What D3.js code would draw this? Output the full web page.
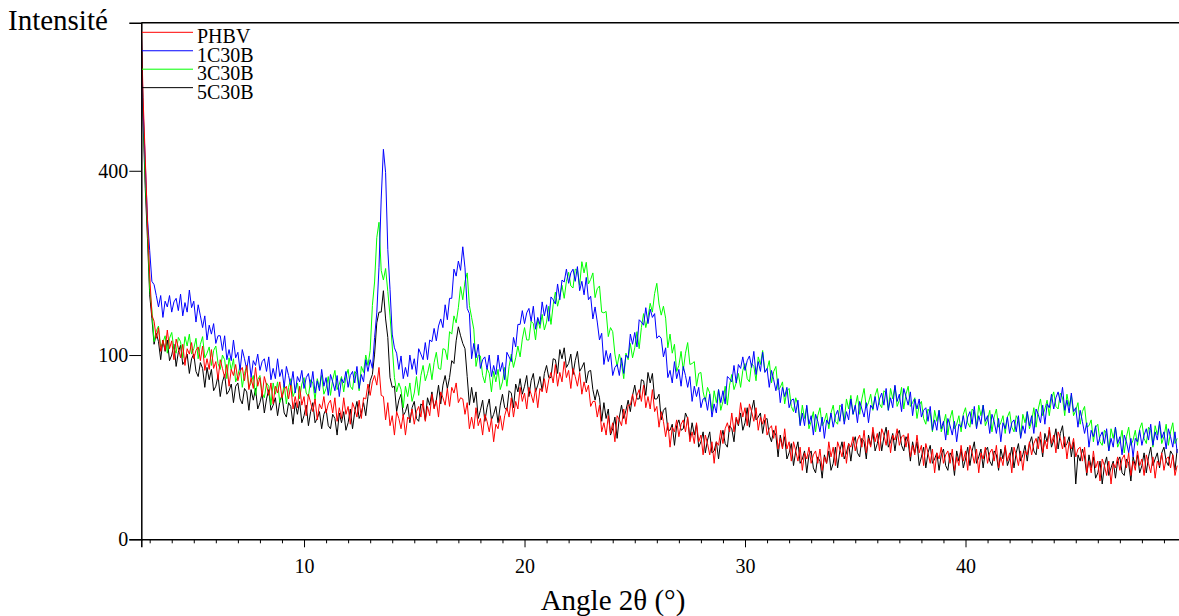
<!DOCTYPE html>
<html>
<head>
<meta charset="utf-8">
<script src="https://cdn.jsdelivr.net/npm/d3@7"></script>
<style>
  body { margin: 0; background: #fff; }
  svg { display: block; font-family: "Liberation Serif", "Times New Roman", serif; }
</style>
</head>
<body>
<div id="chart"></div>
<script>
var width = 1179, height = 616;

// 2θ scan: a few dense points on the steep start, then a 0.1° step
var scanStart = [2.62, 2.7, 2.8, 2.9, 3.0, 3.1];
var angles = scanStart.concat(d3.range(3.2, 49.65, 0.1).map(function(a){ return +a.toFixed(1); }));

// intensities (first line: start + 3.2-3.9, then one line per degree)
var phbv = [785, 575, 428, 296, 207, 148, 140, 119, 132, 104, 117, 105, 129, 107,
  116, 95, 118, 108, 97, 112, 89, 107, 101, 114,
  96, 105, 109, 94, 110, 84, 96, 85, 106, 86,
  93, 75, 95, 86, 77, 90, 69, 85, 79, 90,
  74, 83, 87, 74, 89, 66, 77, 67, 87, 69,
  77, 60, 78, 70, 61, 72, 54, 69, 63, 73,
  59, 66, 69, 58, 70, 50, 60, 51, 69, 53,
  60, 45, 62, 55, 48, 58, 42, 54, 50, 60,
  47, 54, 57, 47, 59, 41, 51, 43, 59, 46,
  52, 39, 55, 50, 44, 57, 43, 59, 58, 71,
  61, 73, 79, 70, 87, 61, 60, 42, 55, 38,
  45, 32, 48, 43, 36, 46, 32, 44, 42, 50,
  39, 48, 52, 44, 57, 41, 52, 45, 62, 50,
  57, 44, 64, 59, 53, 67, 52, 68, 63, 72,
  55, 59, 58, 46, 55, 36, 44, 36, 51, 38,
  43, 32, 46, 41, 34, 43, 28, 39, 36, 45,
  35, 45, 51, 44, 59, 44, 56, 50, 68, 56,
  63, 50, 68, 62, 55, 67, 51, 67, 64, 76,
  63, 75, 82, 72, 90, 69, 82, 73, 93, 77,
  84, 67, 86, 78, 69, 82, 62, 73, 64, 70,
  52, 56, 56, 44, 53, 34, 40, 32, 45, 33,
  40, 28, 45, 42, 38, 50, 39, 53, 53, 62,
  52, 61, 66, 56, 70, 51, 60, 50, 66, 48,
  52, 37, 48, 41, 31, 40, 25, 37, 34, 42,
  31, 39, 42, 34, 44, 28, 34, 27, 40, 28,
  32, 21, 32, 27, 21, 28, 17, 28, 26, 35,
  27, 36, 40, 34, 47, 34, 44, 39, 55, 44,
  51, 38, 54, 48, 41, 51, 35, 44, 39, 46,
  32, 36, 38, 30, 38, 24, 30, 24, 36, 24,
  28, 18, 28, 23, 18, 25, 14, 22, 19, 25,
  17, 21, 23, 17, 24, 14, 20, 17, 28, 20,
  25, 16, 28, 24, 20, 28, 17, 27, 25, 31,
  23, 29, 32, 25, 35, 22, 30, 25, 37, 28,
  33, 23, 36, 32, 26, 35, 22, 32, 29, 36,
  26, 31, 32, 25, 33, 20, 26, 21, 32, 22,
  26, 16, 27, 22, 17, 24, 13, 22, 19, 25,
  17, 21, 23, 17, 24, 14, 20, 16, 26, 18,
  23, 14, 26, 22, 17, 24, 13, 22, 19, 25,
  17, 22, 24, 18, 26, 15, 20, 16, 26, 18,
  22, 13, 25, 21, 16, 23, 14, 23, 21, 28,
  21, 27, 30, 24, 34, 22, 29, 24, 37, 27,
  32, 22, 34, 30, 24, 31, 19, 28, 24, 30,
  20, 24, 25, 18, 25, 13, 18, 13, 23, 15,
  18, 10, 19, 16, 12, 18, 9, 17, 15, 20,
  14, 19, 21, 15, 22, 12, 18, 14, 23, 16,
  19, 12, 21, 17, 13, 20, 11, 18, 16, 22,
  14, 19, 20, 15, 21, 12, 16];

var c1 = [765, 548, 418, 302, 246, 196, 191, 175, 159, 175, 145, 167, 159, 175,
  152, 166, 171, 154, 177, 147, 165, 152, 183, 158,
  167, 139, 162, 147, 132, 147, 117, 135, 124, 137,
  113, 122, 122, 105, 122, 95, 106, 94, 117, 97,
  103, 84, 106, 96, 85, 99, 77, 94, 89, 101,
  84, 93, 96, 83, 98, 75, 86, 76, 96, 78,
  85, 68, 88, 79, 69, 83, 63, 78, 73, 84,
  67, 77, 81, 68, 83, 63, 74, 65, 85, 69,
  77, 61, 80, 73, 65, 79, 60, 76, 72, 83,
  68, 79, 83, 72, 88, 67, 80, 73, 95, 83,
  95, 86, 120, 151, 218, 341, 448, 396, 247, 184,
  124, 108, 102, 85, 99, 76, 87, 78, 100, 85,
  96, 80, 107, 101, 95, 114, 95, 117, 115, 131,
  116, 134, 143, 132, 162, 142, 171, 171, 215, 204,
  228, 213, 252, 217, 157, 150, 96, 113, 97, 112,
  86, 95, 98, 85, 100, 78, 89, 80, 100, 83,
  92, 75, 103, 98, 93, 120, 109, 136, 136, 154,
  137, 151, 157, 140, 160, 130, 145, 136, 166, 147,
  162, 140, 173, 169, 163, 192, 169, 198, 195, 215,
  193, 209, 215, 196, 219, 182, 196, 176, 202, 169,
  174, 143, 159, 139, 117, 125, 90, 105, 93, 102,
  79, 87, 90, 79, 97, 81, 100, 97, 124, 112,
  126, 109, 142, 139, 135, 158, 137, 156, 145, 150,
  119, 122, 119, 98, 108, 77, 84, 72, 93, 76,
  85, 69, 88, 79, 68, 78, 56, 69, 60, 68,
  51, 58, 59, 49, 62, 44, 54, 47, 66, 55,
  65, 54, 78, 76, 73, 89, 72, 90, 86, 98,
  84, 94, 99, 87, 104, 80, 93, 83, 103, 82,
  86, 68, 84, 75, 65, 76, 55, 68, 60, 68,
  51, 57, 58, 47, 57, 38, 47, 38, 53, 39,
  45, 32, 46, 41, 34, 44, 30, 42, 39, 47,
  37, 45, 49, 41, 54, 39, 48, 42, 58, 46,
  53, 40, 56, 50, 44, 55, 40, 53, 50, 60,
  49, 58, 63, 53, 67, 49, 59, 51, 70, 56,
  62, 48, 67, 60, 53, 64, 45, 58, 50, 58,
  44, 49, 51, 41, 52, 35, 42, 35, 49, 36,
  41, 29, 43, 38, 32, 41, 28, 39, 37, 45,
  36, 44, 48, 39, 52, 36, 45, 39, 53, 41,
  45, 33, 46, 41, 33, 43, 28, 40, 36, 44,
  33, 40, 42, 34, 45, 30, 38, 33, 48, 38,
  45, 33, 50, 46, 40, 53, 39, 54, 51, 62,
  50, 59, 64, 55, 68, 49, 57, 47, 63, 48,
  51, 37, 49, 41, 33, 40, 25, 35, 31, 38,
  26, 31, 34, 27, 36, 23, 30, 25, 37, 27,
  31, 21, 32, 28, 22, 30, 20, 30, 28, 35,
  26, 32, 36, 29, 39, 26, 34, 29, 41, 30,
  34, 24, 36, 31, 25, 34, 22];

var c3 = [735, 552, 380, 288, 184, 156, 115, 128, 134, 109, 114, 122, 102, 119,
  126, 107, 102, 120, 115, 97, 121, 110, 124, 101,
  107, 119, 96, 112, 121, 97, 102, 109, 89, 105,
  110, 91, 85, 100, 95, 76, 97, 84, 96, 73,
  79, 89, 68, 81, 89, 68, 72, 79, 61, 75,
  79, 63, 59, 72, 69, 53, 72, 62, 73, 55,
  60, 71, 54, 68, 76, 60, 65, 72, 58, 71,
  77, 63, 60, 75, 72, 57, 76, 68, 79, 62,
  67, 78, 61, 75, 84, 66, 71, 78, 64, 78,
  85, 69, 66, 83, 80, 65, 88, 82, 100, 89,
  105, 161, 195, 268, 296, 213, 198, 216, 181, 147,
  110, 77, 64, 72, 66, 51, 69, 60, 72, 56,
  63, 78, 61, 79, 89, 74, 81, 91, 75, 92,
  103, 86, 85, 107, 106, 95, 127, 124, 147, 138,
  158, 188, 169, 196, 209, 161, 145, 130, 88, 100,
  99, 79, 72, 86, 81, 64, 83, 73, 85, 66,
  73, 87, 69, 88, 101, 87, 97, 110, 98, 118,
  132, 117, 117, 140, 137, 117, 143, 131, 149, 129,
  139, 160, 136, 162, 180, 160, 174, 190, 171, 196,
  210, 189, 186, 215, 213, 190, 227, 209, 226, 192,
  199, 209, 172, 185, 189, 152, 151, 153, 121, 132,
  127, 101, 88, 101, 91, 76, 102, 95, 113, 97,
  108, 127, 107, 132, 150, 132, 145, 164, 152, 178,
  193, 163, 148, 160, 144, 108, 124, 102, 112, 83,
  89, 104, 84, 102, 114, 90, 91, 93, 69, 81,
  82, 64, 56, 68, 63, 48, 65, 55, 66, 49,
  56, 69, 53, 70, 80, 66, 72, 81, 68, 84,
  91, 76, 73, 91, 88, 74, 98, 90, 105, 83,
  85, 94, 72, 83, 88, 66, 68, 73, 54, 65,
  67, 52, 48, 59, 53, 39, 53, 43, 52, 36,
  41, 48, 34, 45, 51, 38, 41, 47, 36, 47,
  53, 41, 39, 53, 51, 41, 58, 50, 61, 46,
  52, 61, 46, 58, 67, 51, 55, 62, 49, 61,
  67, 54, 51, 65, 63, 49, 67, 58, 69, 52,
  57, 68, 50, 62, 69, 52, 55, 59, 43, 53,
  56, 43, 39, 50, 47, 34, 49, 41, 49, 34,
  39, 46, 32, 43, 49, 36, 39, 45, 34, 46,
  51, 40, 37, 50, 48, 37, 53, 45, 53, 38,
  42, 49, 34, 44, 50, 37, 40, 45, 33, 44,
  48, 37, 34, 45, 42, 31, 46, 40, 48, 36,
  41, 51, 37, 50, 58, 45, 50, 57, 45, 58,
  64, 52, 50, 63, 59, 45, 62, 52, 61, 45,
  49, 55, 39, 48, 52, 37, 38, 42, 28, 37,
  39, 28, 26, 35, 33, 23, 36, 30, 37, 25,
  28, 35, 22, 31, 37, 26, 29, 35, 26, 36,
  40, 30, 27, 37, 35, 25, 38, 32, 39, 27,
  31, 39, 26, 34, 40, 27, 30];

var c5 = [690, 515, 362, 266, 176, 144, 112, 125, 115, 95, 117, 104, 117, 94,
  100, 112, 88, 103, 111, 90, 94, 101, 81, 96,
  101, 83, 78, 92, 86, 68, 87, 75, 85, 65,
  69, 79, 60, 73, 80, 62, 65, 71, 55, 69,
  72, 58, 54, 67, 64, 49, 66, 57, 67, 50,
  55, 63, 47, 58, 66, 49, 53, 59, 45, 56,
  61, 47, 44, 55, 52, 39, 55, 46, 56, 40,
  45, 53, 38, 48, 55, 40, 43, 48, 36, 46,
  50, 38, 36, 46, 43, 32, 47, 40, 48, 35,
  40, 50, 36, 48, 56, 43, 47, 55, 45, 60,
  74, 80, 101, 138, 152, 152, 182, 143, 120, 77,
  68, 69, 48, 57, 62, 45, 48, 54, 40, 51,
  56, 43, 41, 54, 52, 42, 59, 53, 64, 51,
  57, 70, 54, 70, 79, 67, 77, 94, 91, 116,
  133, 122, 113, 107, 78, 53, 68, 55, 64, 43,
  49, 57, 41, 51, 58, 42, 46, 52, 40, 53,
  62, 51, 49, 65, 63, 51, 71, 64, 76, 62,
  69, 79, 60, 74, 81, 64, 70, 78, 65, 81,
  89, 77, 77, 96, 95, 81, 106, 96, 108, 87,
  91, 101, 80, 94, 104, 83, 87, 92, 72, 83,
  84, 66, 57, 66, 59, 41, 55, 43, 50, 32,
  36, 44, 30, 44, 53, 43, 49, 57, 48, 61,
  70, 58, 58, 75, 74, 61, 82, 72, 81, 58,
  58, 62, 42, 49, 51, 35, 35, 39, 26, 38,
  42, 35, 36, 47, 43, 30, 40, 32, 39, 25,
  28, 34, 22, 29, 34, 22, 23, 28, 19, 29,
  35, 27, 25, 38, 36, 28, 43, 38, 47, 35,
  40, 51, 37, 49, 57, 42, 44, 47, 33, 42,
  43, 32, 28, 35, 32, 20, 32, 25, 31, 19,
  22, 27, 16, 23, 28, 17, 19, 23, 13, 21,
  23, 15, 13, 20, 18, 11, 21, 17, 23, 14,
  17, 25, 15, 23, 28, 19, 22, 27, 18, 27,
  31, 22, 20, 30, 28, 19, 32, 26, 34, 23,
  27, 34, 23, 31, 37, 25, 28, 33, 23, 32,
  35, 26, 23, 31, 28, 18, 28, 22, 28, 16,
  20, 25, 15, 22, 26, 17, 19, 22, 14, 21,
  24, 16, 14, 22, 20, 12, 23, 18, 24, 15,
  19, 25, 16, 23, 28, 17, 20, 24, 15, 23,
  25, 18, 16, 23, 21, 14, 24, 19, 25, 16,
  19, 25, 15, 22, 27, 18, 21, 26, 18, 27,
  31, 23, 21, 31, 29, 20, 33, 28, 35, 25,
  29, 36, 24, 33, 38, 25, 27, 31, 20, 28,
  9, 21, 18, 24, 20, 12, 21, 15, 20, 11,
  13, 18, 9, 16, 20, 12, 15, 18, 11, 18,
  20, 13, 12, 19, 17, 10, 20, 16, 21, 13,
  16, 22, 13, 20, 25, 16, 19, 22, 15, 22,
  25, 18, 16, 23, 21, 14, 24];

var names = ["PHBV", "1C30B", "3C30B", "5C30B"];
var colors = ["#ff0000", "#0000ff", "#00ff00", "#000000"];
var series = [phbv, c1, c3, c5];
var drawOrder = [3, 2, 1, 0];   // black first, red on top

var xMajor = [10, 20, 30, 40];
var xMinor = d3.range(3, 50).filter(function(v){ return v % 10 != 0; });
var yTicks = [0, 100, 400];

var svg = d3.select("#chart").append("svg")
    .attr("width", width)
    .attr("height", height);

var x = d3.scaleLinear().domain([2.62, 50]).range([141.3, 1186]);
var y = d3.scaleSqrt().domain([0, 786]).range([539.3, 22.7]);

svg.append("defs").append("clipPath").attr("id", "plotclip")
  .append("rect")
    .attr("x", x.range()[0]).attr("y", y.range()[1])
    .attr("width", x.range()[1] - x.range()[0])
    .attr("height", y.range()[0] - y.range()[1]);

var line = d3.line()
    .defined(function(d, i){ return angles[i] != null; })
    .x(function(d, i){ return x(angles[i]); })
    .y(function(d){ return y(d); });

var curves = svg.append("g").attr("clip-path", "url(#plotclip)");
drawOrder.forEach(function(k){
    curves.append("path")
        .datum(series[k])
        .attr("fill", "none")
        .attr("stroke", colors[k])
        .attr("stroke-width", 1)
        .attr("d", line);
});

// top frame line
svg.append("line")
    .attr("x1", x.range()[0]).attr("x2", width)
    .attr("y1", y.range()[1]).attr("y2", y.range()[1])
    .attr("stroke", "#000").attr("stroke-width", 1.5);

// x axis
var xAxis = svg.append("g")
    .attr("transform", "translate(0," + y(0) + ")")
    .call(d3.axisBottom(x).tickValues(xMajor).tickSize(8).tickPadding(12).tickFormat(d3.format("d")));
xAxis.select(".domain").attr("stroke-width", 1.5);
xAxis.selectAll("text").attr("font-size", 20).attr("font-family", "Liberation Serif").attr("fill", "#000");

svg.append("g")
    .attr("transform", "translate(0," + y(0) + ")")
    .call(d3.axisBottom(x).tickValues(xMinor).tickSize(4).tickFormat(""))
    .select(".domain").remove();

// y axis
var yAxis = svg.append("g")
    .attr("transform", "translate(" + x.range()[0] + ",0)")
    .call(d3.axisLeft(y).tickValues(yTicks).tickSize(12).tickPadding(1));
yAxis.select(".domain").attr("stroke-width", 1.5);
yAxis.selectAll("text").attr("font-size", 20).attr("font-family", "Liberation Serif").attr("fill", "#000");

// axis titles
svg.append("text")
    .attr("x", 8).attr("y", 30)
    .attr("font-size", 29)
    .text("Intensité");

svg.append("text")
    .attr("x", 613).attr("y", 610)
    .attr("text-anchor", "middle")
    .attr("font-size", 29)
    .text("Angle 2θ (°)");

// legend
var legend = svg.append("g");
names.forEach(function(n, i){
    var ly = 32.3 + i * 18.45;
    legend.append("line")
        .attr("x1", 142).attr("x2", 193)
        .attr("y1", ly).attr("y2", ly)
        .attr("stroke", colors[i]).attr("stroke-width", 1);
    legend.append("text")
        .attr("x", 197).attr("y", ly + 11)
        .attr("font-size", 20)
        .text(n);
});
</script>
</body>
</html>
